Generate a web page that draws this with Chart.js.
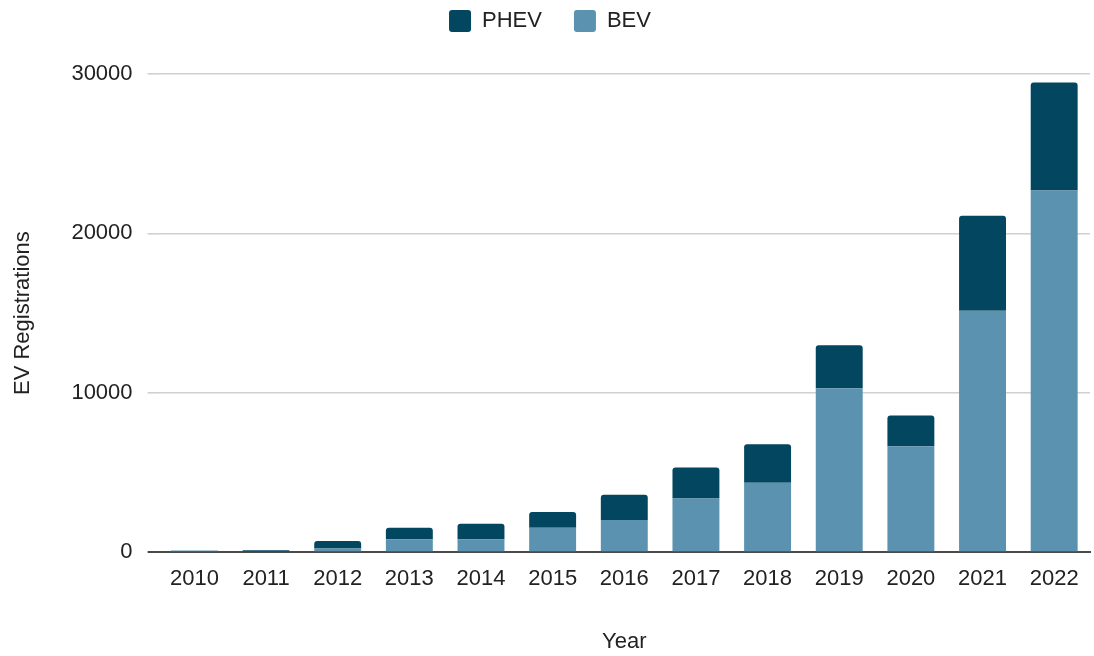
<!DOCTYPE html>
<html>
<head>
<meta charset="utf-8">
<script src="https://cdn.jsdelivr.net/npm/chart.js@4"></script>
<style>
  html, body { margin: 0; padding: 0; background: #fff; }
  #wrap { width: 1094px; height: 656px; }
</style>
</head>
<body>
<div id="wrap"><canvas id="chart" width="1094" height="656"></canvas></div>
<script>
const years = ["2010","2011","2012","2013","2014","2015","2016","2017","2018","2019","2020","2021","2022"];
const bev  = [110, 0, 230, 810, 810, 1540, 2020, 3375, 4355, 10290, 6645, 15140, 22690];
const phev = [0, 120, 475, 730, 980, 980, 1580, 1935, 2415, 2690, 1935, 5960, 6770];
const yTicks = [0, 10000, 20000, 30000];

const fontFamily = "'Liberation Sans', Arial, sans-serif";
const fontSize = 22;

// extra room under the legend
const legendSpacer = {
  id: "legendSpacer",
  beforeLayout(chart) {
    const lg = chart.legend;
    if (!lg || lg._spaced) return;
    const fit = lg.fit;
    lg.fit = function () { fit.call(this); this.height += 32; };
    lg._spaced = true;
  }
};

const ctx = document.getElementById("chart").getContext("2d");
new Chart(ctx, {
  type: "bar",
  data: {
    labels: years,
    datasets: [
      {
        label: "BEV",
        data: bev,
        backgroundColor: "#5a92af",
        borderRadius: 0,
        stack: "ev"
      },
      {
        label: "PHEV",
        data: phev,
        backgroundColor: "#02465f",
        borderRadius: { topLeft: 3, topRight: 3, bottomLeft: 0, bottomRight: 0 },
        borderSkipped: false,
        stack: "ev"
      }
    ]
  },
  plugins: [legendSpacer],
  options: {
    responsive: false,
    animation: false,
    layout: { padding: { left: 10, right: 4, top: -22, bottom: 1 } },
    datasets: { bar: { categoryPercentage: 0.655, barPercentage: 1.0 } },
    plugins: {
      legend: {
        position: "top",
        reverse: true,
        labels: {
          font: { family: fontFamily, size: fontSize },
          color: "#222",
          boxWidth: 22,
          boxHeight: 22,
          padding: 32,
          useBorderRadius: true,
          borderRadius: 3
        }
      },
      tooltip: { enabled: false }
    },
    scales: {
      x: {
        stacked: true,
        z: 1,
        grid: { display: false },
        border: { display: true, color: "#4a4a4a", width: 2 },
        ticks: { font: { family: fontFamily, size: fontSize }, color: "#222", padding: 6 },
        title: {
          display: true,
          text: "Year",
          font: { family: fontFamily, size: fontSize },
          color: "#222",
          padding: { top: 30, bottom: 0 }
        }
      },
      y: {
        stacked: true,
        min: 0,
        max: 30000,
        afterBuildTicks: axis => { axis.ticks = yTicks.map(v => ({ value: v })); },
        grid: {
          color: c => (c.tick && c.tick.value === 0) ? "#4a4a4a" : "#d0d0d0",
          lineWidth: c => (c.tick && c.tick.value === 0) ? 2 : 1.6,
          tickLength: 11
        },
        border: { display: false },
        ticks: {
          font: { family: fontFamily, size: fontSize },
          color: "#222",
          padding: 15,
          callback: v => String(v)
        },
        title: {
          display: true,
          text: "EV Registrations",
          font: { family: fontFamily, size: fontSize },
          color: "#222",
          padding: { top: 0, bottom: 20 }
        }
      }
    }
  }
});
</script>
</body>
</html>
